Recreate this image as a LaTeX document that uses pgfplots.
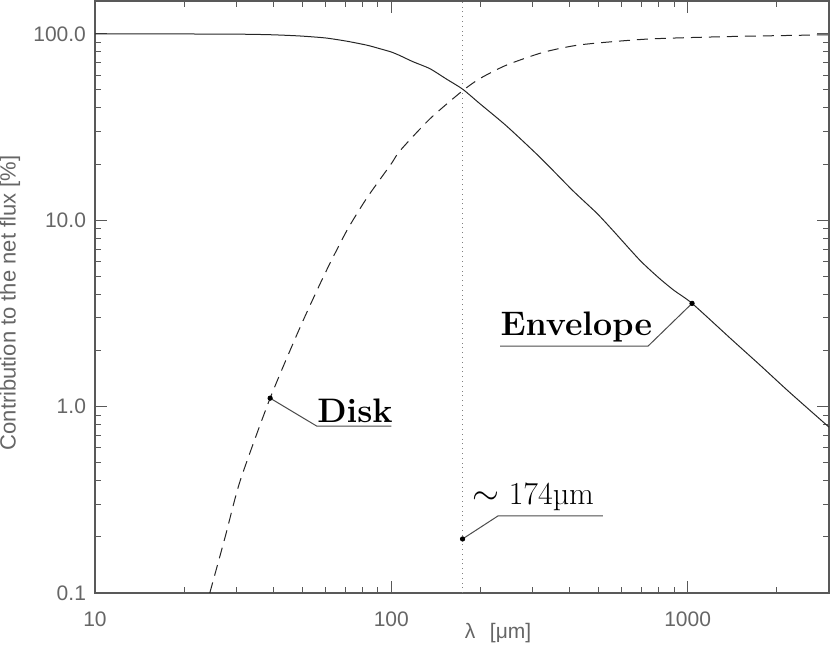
\documentclass[border=0pt]{standalone}
\usepackage{fontspec}
\usepackage{pgfplots}
\pgfplotsset{compat=1.18}
\newfontfamily\idl{Liberation Sans}
\definecolor{labgray}{gray}{0.4}
\definecolor{axgray}{gray}{0.35}

\begin{document}
\begin{tikzpicture}
\begin{axis}[
 xmode=log, ymode=log,
 scale only axis, width=367pt, height=296pt,
 xmin=10, xmax=3000, ymin=0.1, ymax=150,
 xtick={10,100,1000}, xticklabels={10,100,1000},
 minor xtick={20,30,40,50,60,70,80,90,200,300,400,500,600,700,800,900,2000},
 ytick={0.1,1,10,100}, yticklabels={0.1,1.0,10.0,100.0},
 minor ytick={0.2,0.3,0.4,0.5,0.6,0.7,0.8,0.9,2,3,4,5,6,7,8,9,20,30,40,50,60,70,80,90},
 tick align=inside, xtick pos=both, ytick pos=both,
 major tick length=6pt, minor tick length=3pt,
 every tick/.style={axgray, line width=0.5pt},
 axis line style={axgray, line width=0.7pt},
 tick label style={font=\idl\fontsize{10.5}{12}\selectfont, text=labgray},
 xticklabel style={yshift=-6pt},
 yticklabel style={xshift=-1pt},
 clip=false,
]
% disk (dashed) and envelope (solid) contributions
\addplot[black!85, line width=0.5pt, dash pattern=on 5.5pt off 3.5pt, smooth, tension=0.4] coordinates {
 (24.4,0.1)(27.5,0.2)(30.9,0.40)(39,1.11)(49.2,2.66)(59.7,5.17)(70.8,8.8)(82.8,13.2)
 (100,20.1)(107,23.6)(135,35)(174,49.5)(200,57.8)(245,68)(325,79.5)(434,87.3)(730,93.7)
 (1390,96.7)(3000,98.8)};
\addplot[black!85, line width=0.5pt, smooth, tension=0.4] coordinates {
 (10,99.9)(20,99.8)(30,99.6)(39,98.9)(49,97.4)(60,95)(71,91.2)(83,86.8)(92,83)
 (100,79.9)(107,76.4)(118,71)(135,65)(154,57)(174,50.5)(199,42.2)(245,32)
 (318,21.7)(410,14.4)(494,10.9)(560,8.8)(690,6.1)(800,4.9)(900,4.2)(1035,3.58)
 (1400,2.31)(1755,1.67)(2200,1.20)(3000,0.776)};
% transition wavelength
\addplot[gray, line width=0.4pt, dotted] coordinates {(174,0.1)(174,150)};

% labels with leaders
\addplot[black!70, line width=0.5pt] coordinates {(39,1.11)(56.1,0.785)(100,0.785)};
\addplot[black!70, line width=0.5pt] coordinates {(1035,3.58)(735,2.11)(233,2.11)};
\addplot[black!70, line width=0.5pt] coordinates {(174,0.195)(229,0.259)(518,0.259)};
\addplot[only marks, mark=*, mark size=1.1pt, black] coordinates {(39,1.11)(1035,3.58)(174,0.195)};
\node[anchor=base west, inner sep=0pt, yshift=2pt] at (axis cs:56.1,0.785) {\fontsize{17}{20}\selectfont\bfseries Disk};
\node[anchor=base west, inner sep=0pt, yshift=5.5pt] at (axis cs:233,2.11) {\fontsize{17}{20}\selectfont\bfseries Envelope};
\node[anchor=base west, inner sep=0pt, yshift=5.5pt] at (axis cs:187,0.259) {\fontsize{16}{19}\selectfont$\sim$ 174µm};

% axis titles
\node[font=\idl\fontsize{10.5}{12}\selectfont, text=labgray] at (axis description cs:0.5,0) [yshift=-20pt, xshift=18pt] {λ\hspace{0.7em}[μm]};
\node[font=\idl\fontsize{11}{13}\selectfont, text=labgray, rotate=90] at (axis description cs:-0.1158,0.49) {Contribution to the net flux [\%]};

\coordinate (bl) at (rel axis cs:0,0);
\coordinate (tr) at (rel axis cs:1,1);
\end{axis}
\pgfresetboundingbox
\path ([shift={(-47.5pt,-30.5pt)}]bl) rectangle ([shift={(0.5pt,0.5pt)}]tr);
\end{tikzpicture}
\end{document}
